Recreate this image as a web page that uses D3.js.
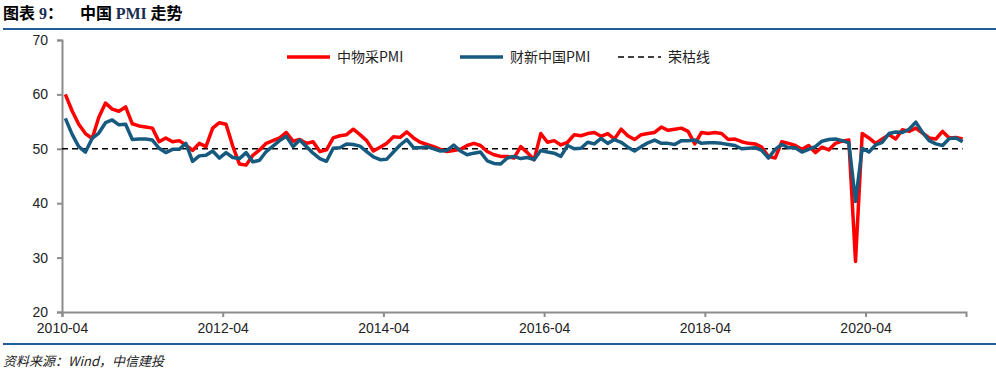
<!DOCTYPE html>
<html>
<head>
<meta charset="utf-8">
<script src="https://cdn.jsdelivr.net/npm/d3@7"></script>
<style>
  body { margin: 0; background: #fff; }
  svg { display: block; }
</style>
</head>
<body>
<svg id="svg" width="996" height="373"></svg>
<script>
// monthly data, 2010-04 .. 2021-06
var startMonth = new Date(2010, 3, 1);
var endMonth = new Date(2021, 6, 1);
var months = d3.timeMonth.range(startMonth, endMonth).map(d3.timeFormat('%Y-%m'));

var tickLabels = ['2010-04', '2012-04', '2014-04', '2016-04', '2018-04', '2020-04'];
var yTicks = [20, 30, 40, 50, 60, 70];

// 中物采PMI (red)
var cfpPmi = [
  60.0, 57.0, 54.5, 52.8, 51.9, 55.8, 58.4, 57.3, 56.9,
  57.7, 54.6, 54.2, 54.0, 53.8, 51.3, 52.0, 51.3, 51.5, 50.7, 49.7, 51.0,
  50.4, 53.8, 54.8, 54.5, 50.5, 47.2, 47.0, 48.8, 49.8, 51.0, 51.5, 52.0,
  53.0, 51.4, 51.7, 51.0, 51.3, 49.5, 49.8, 52.0, 52.4, 52.6, 53.6, 52.6,
  51.5, 49.6, 50.3, 51.0, 52.2, 52.1, 53.1, 52.0, 51.2, 50.8, 50.4, 49.9,
  49.5, 49.7, 49.9, 50.6, 51.0, 50.6, 49.5, 48.9, 48.6, 48.6, 48.3, 50.4,
  49.3, 48.0, 52.8, 51.2, 51.5, 50.7, 51.2, 52.6, 52.4, 52.8, 53.0, 52.3,
  52.8, 51.8, 53.6, 52.4, 51.7, 52.6, 52.8, 53.0, 54.0, 53.4, 53.6, 53.8,
  53.2, 50.9, 53.0, 52.8, 53.0, 52.8, 51.7, 51.8, 51.3, 51.0, 50.9, 50.3,
  48.6, 48.3, 51.3, 51.0, 50.6, 49.9, 50.6, 49.3, 50.3, 49.8, 51.0, 51.4,
  51.6, 29.3, 52.8, 52.0, 51.0, 51.8, 52.6, 51.8, 53.5, 53.2, 53.8, 52.9,
  52.0, 51.8, 53.2, 52.0, 52.1, 51.8
];

// 财新中国PMI (blue)
var caixinPmi = [
  55.6, 52.7, 50.4, 49.4, 51.9, 52.9, 54.8, 55.3, 54.4,
  54.5, 51.7, 51.8, 51.8, 51.6, 50.1, 49.3, 49.9, 49.9, 51.0, 47.7, 48.7,
  48.8, 49.6, 48.3, 49.3, 48.4, 48.2, 49.3, 47.6, 47.9, 49.5, 50.5, 51.5,
  52.3, 50.4, 51.6, 50.4, 49.2, 48.2, 47.7, 50.1, 50.2, 50.9, 50.8, 50.5,
  49.5, 48.5, 48.0, 48.1, 49.4, 50.7, 51.7, 50.2, 50.2, 50.4, 50.0, 49.6,
  49.7, 50.7, 49.6, 48.9, 49.2, 49.4, 47.8, 47.3, 47.2, 48.3, 48.6, 48.2,
  48.4, 48.0, 49.7, 49.4, 49.2, 48.6, 50.6, 50.0, 50.1, 51.2, 50.9, 51.9,
  51.0, 51.7, 51.2, 50.3, 49.6, 50.4, 51.1, 51.6, 51.0, 51.0, 50.8, 51.5,
  51.5, 51.6, 51.0, 51.1, 51.1, 51.0, 50.8, 50.6, 50.0, 50.1, 50.2, 49.7,
  48.3, 49.9, 50.8, 50.2, 50.2, 49.4, 49.9, 50.4, 51.4, 51.7, 51.8, 51.5,
  51.1, 40.3, 50.1, 49.4, 50.7, 51.2, 52.8, 53.1, 53.0, 53.6, 54.9, 53.0,
  51.5, 50.9, 50.6, 51.9, 52.0, 51.3
];

var boomBust = 50;

var width = 996, height = 373;
var svg = d3.select('#svg');

var x = d3.scaleLinear()
    .domain([-0.5, months.length - 0.5])
    .range([62, 966]);

var y = d3.scaleLinear()
    .domain([20, 70])
    .range([312, 40]);

var red = '#ff0000';
var blue = '#175a80';
var fontAxis = 'Arial, "Liberation Sans", sans-serif';

// title
var title = svg.append('text')
    .attr('x', 3)
    .attr('y', 19)
    .attr('font-size', 16)
    .attr('font-weight', 'bold')
    .attr('font-family', '"Noto Sans CJK SC", sans-serif');
title.append('tspan').text('图表');
title.append('tspan').attr('font-family', '"Liberation Serif", "Times New Roman", serif').attr('fill', '#1a2a50').text(' 9');
title.append('tspan').text('：');
title.append('tspan').attr('x', 80).text('中国 ');
title.append('tspan').attr('font-family', '"Liberation Serif", "Times New Roman", serif').attr('fill', '#1a2a50').text('PMI');
title.append('tspan').text(' 走势');

svg.append('line')
    .attr('x1', 3).attr('x2', 996)
    .attr('y1', 29).attr('y2', 29)
    .attr('stroke', '#1f5c99').attr('stroke-width', 2);

svg.append('line')
    .attr('x1', 3).attr('x2', 996)
    .attr('y1', 344).attr('y2', 344)
    .attr('stroke', '#1f5c99').attr('stroke-width', 2);

svg.append('text')
    .attr('x', 3)
    .attr('y', 366)
    .attr('font-size', 13)
    .attr('font-style', 'italic')
    .attr('fill', '#222')
    .attr('font-family', '"Noto Sans CJK SC", sans-serif')
    .text('资料来源：Wind，中信建投');

// axes
var xAxis = d3.axisBottom(x)
    .tickValues(tickLabels.map(function (t) { return months.indexOf(t) - 0.5; }))
    .tickFormat(function (d) { return months[d + 0.5]; })
    .tickSize(5)
    .tickPadding(6);

var yAxis = d3.axisLeft(y)
    .tickValues(yTicks)
    .tickSize(5)
    .tickPadding(9);

var gx = svg.append('g')
    .attr('transform', 'translate(0,' + y(20) + ')')
    .call(xAxis);

var gy = svg.append('g')
    .attr('transform', 'translate(' + x.range()[0] + ',0)')
    .call(yAxis);

[gx, gy].forEach(function (g) {
    g.select('.domain').attr('stroke', '#8c8c8c').attr('stroke-width', 2);
    g.selectAll('.tick line').attr('stroke', '#8c8c8c').attr('stroke-width', 2);
    g.selectAll('.tick text')
        .attr('font-size', 14)
        .attr('font-family', fontAxis)
        .attr('fill', '#222');
});

// 荣枯线
svg.append('line')
    .attr('x1', x(-0.5)).attr('x2', x(months.length - 1))
    .attr('y1', y(boomBust)).attr('y2', y(boomBust))
    .attr('stroke', '#000').attr('stroke-width', 1.5)
    .attr('stroke-dasharray', '6,4');

var line = d3.line()
    .x(function (d, i) { return x(i); })
    .y(function (d) { return y(d); });

svg.append('path')
    .datum(cfpPmi)
    .attr('d', line)
    .attr('fill', 'none')
    .attr('stroke', red)
    .attr('stroke-width', 3.5)
    .attr('stroke-linejoin', 'round');

svg.append('path')
    .datum(caixinPmi)
    .attr('d', line)
    .attr('fill', 'none')
    .attr('stroke', blue)
    .attr('stroke-width', 3.5)
    .attr('stroke-linejoin', 'round');

// legend
var legend = [
    {name: '中物采PMI', color: red, dash: null, x: 287},
    {name: '财新中国PMI', color: blue, dash: null, x: 460},
    {name: '荣枯线', color: '#000', dash: '6,4', x: 618}
];

var lg = svg.selectAll('.legend')
    .data(legend)
    .enter()
    .append('g')
    .attr('class', 'legend')
    .attr('transform', function (d) { return 'translate(' + d.x + ',57)'; });

lg.append('line')
    .attr('x1', 0).attr('x2', 43)
    .attr('stroke', function (d) { return d.color; })
    .attr('stroke-width', function (d) { return d.dash ? 1.5 : 3.5; })
    .attr('stroke-dasharray', function (d) { return d.dash; });

lg.append('text')
    .attr('x', 50)
    .attr('y', 5)
    .attr('font-size', 14)
    .attr('fill', '#222')
    .attr('font-family', '"Noto Sans CJK SC", sans-serif')
    .text(function (d) { return d.name; });
</script>
</body>
</html>
